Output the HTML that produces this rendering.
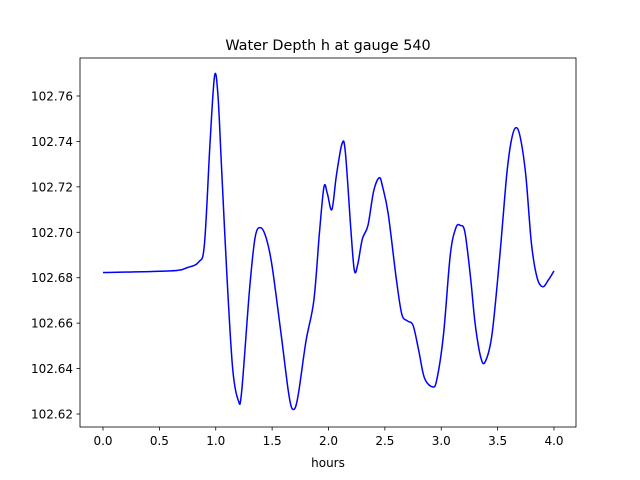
<!DOCTYPE html>
<html><head><meta charset="utf-8"><style>
body{margin:0;background:#fff;}
svg{display:block;font-family:"DejaVu Sans","Liberation Sans",sans-serif;}
</style></head><body>
<svg id="chart" width="640" height="480" viewBox="0 0 640 480">
<rect width="640" height="480" fill="#fff"/>
<text x="328" y="50" text-anchor="middle" font-size="14.4">Water Depth h at gauge 540</text>
<g id="plot"></g>
<rect x="80" y="58" width="496" height="369" fill="none" stroke="#000" stroke-width="0.8"/>
<text x="328" y="467" text-anchor="middle" font-size="12">hours</text>
</svg>
<script>
const xs=[0.0,0.6,0.75,0.85,0.9,0.95,0.99,1.02,1.05,1.1,1.15,1.2,1.23,1.3,1.35,1.4,1.45,1.5,1.58,1.65,1.69,1.73,1.8,1.87,1.92,1.96,1.99,2.03,2.07,2.12,2.15,2.2,2.23,2.26,2.3,2.35,2.4,2.45,2.48,2.53,2.6,2.65,2.7,2.75,2.8,2.85,2.92,2.96,3.02,3.08,3.13,3.17,3.21,3.26,3.3,3.35,3.39,3.45,3.52,3.58,3.62,3.66,3.7,3.75,3.8,3.85,3.9,3.95,4.0];
const ys=[102.6823,102.683,102.6845,102.687,102.695,102.74,102.769,102.76,102.73,102.68,102.64,102.626,102.630,102.675,102.698,102.702,102.697,102.685,102.655,102.628,102.622,102.628,102.652,102.67,102.70,102.720,102.717,102.710,102.725,102.739,102.735,102.700,102.683,102.686,102.697,102.703,102.718,102.724,102.720,102.708,102.680,102.664,102.661,102.659,102.648,102.636,102.632,102.635,102.655,102.690,102.702,102.703,102.700,102.680,102.660,102.645,102.643,102.655,102.690,102.725,102.740,102.746,102.742,102.725,102.695,102.680,102.676,102.679,102.683];
const xTicks=[0,0.5,1,1.5,2,2.5,3,3.5,4];
const xTickLabels=["0.0","0.5","1.0","1.5","2.0","2.5","3.0","3.5","4.0"];
const yTicks=[102.62,102.64,102.66,102.68,102.70,102.72,102.74,102.76];
const yTickLabels=["102.62","102.64","102.66","102.68","102.70","102.72","102.74","102.76"];
const NS="http://www.w3.org/2000/svg";
const X=v=>103+(v-0)*(554-103)/4;
const Y=v=>414-(v-102.62)*(414-96)/0.14;
const g=document.getElementById('plot');
function mk(t,a){const e=document.createElementNS(NS,t);for(const k in a)e.setAttribute(k,a[k]);g.appendChild(e);return e;}
xTicks.forEach((t,i)=>{
 const l=mk('line',{x1:X(t),x2:X(t),y1:427,y2:430.5,stroke:'#000','stroke-width':0.8});
 
 
 const tx=mk('text',{x:X(t),y:445,'text-anchor':'middle','font-size':12});
 tx.textContent=xTickLabels[i];
 
 
});
yTicks.forEach((t,i)=>{
 const l=mk('line',{x1:76.5,x2:80,y1:Y(t),y2:Y(t),stroke:'#000','stroke-width':0.8});
 
 
 const tx=mk('text',{x:73,y:Y(t)+4.5,'text-anchor':'end','font-size':12});
 tx.textContent=yTickLabels[i];
 
 
});
// Catmull-Rom smooth path
const P=xs.map((x,i)=>[X(x),Y(ys[i])]);
let d='M'+P[0][0]+','+P[0][1];
for(let i=0;i<P.length-1;i++){
 const p0=P[Math.max(i-1,0)],p1=P[i],p2=P[i+1],p3=P[Math.min(i+2,P.length-1)];
 const c1=[p1[0]+(p2[0]-p0[0])/6,p1[1]+(p2[1]-p0[1])/6];
 const c2=[p2[0]-(p3[0]-p1[0])/6,p2[1]-(p3[1]-p1[1])/6];
 d+=' C'+c1+' '+c2+' '+p2;
}
const line=mk('path',{d:d,fill:'none',stroke:'#0000ff','stroke-width':1.5});


</script>
</body></html>
